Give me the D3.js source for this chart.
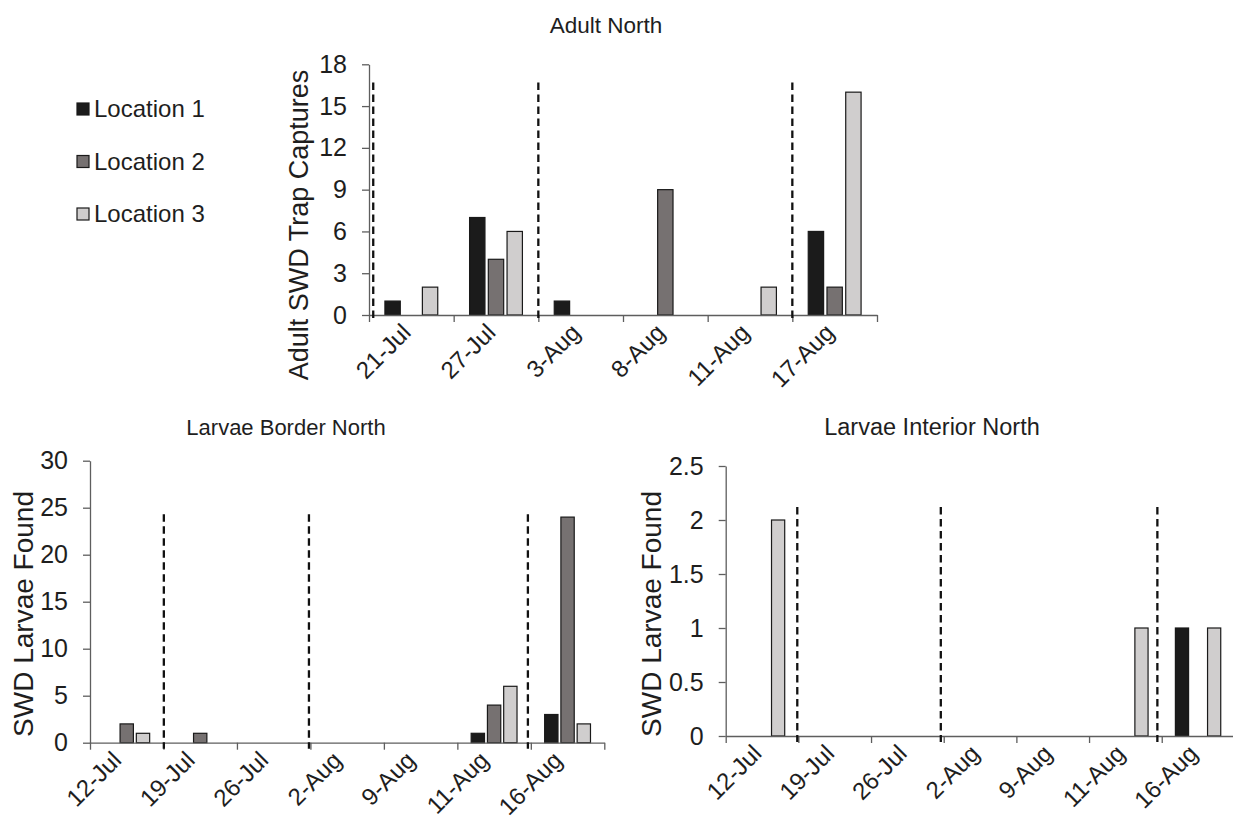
<!DOCTYPE html>
<html>
<head>
<meta charset="utf-8">
<script src="https://cdn.jsdelivr.net/npm/d3@7/dist/d3.min.js"></script>
<style>
  html, body { margin: 0; padding: 0; background: #ffffff; }
  svg { display: block; font-family: "Liberation Sans", Arial, Helvetica, sans-serif; }
</style>
</head>
<body>
<svg id="chart" width="1233" height="829"></svg>
<script>
// ---- Data ----
const locations = ["Location 1", "Location 2", "Location 3"];

const adultDates = ["21-Jul", "27-Jul", "3-Aug", "8-Aug", "11-Aug", "17-Aug"];
const adultLoc1 = [1, 7, 1, 0, 0, 6];
const adultLoc2 = [0, 4, 0, 9, 0, 2];
const adultLoc3 = [2, 6, 0, 0, 2, 16];
const adultTicks = [0, 3, 6, 9, 12, 15, 18];
// event markers, in category units along the date axis
const adultMarkers = [0.05, 2.0, 5.0];
const adultMarkerTop = 16.7;

const larvaeDates = ["12-Jul", "19-Jul", "26-Jul", "2-Aug", "9-Aug", "11-Aug", "16-Aug"];
const borderLoc1 = [0, 0, 0, 0, 0, 1, 3];
const borderLoc2 = [2, 1, 0, 0, 0, 4, 24];
const borderLoc3 = [1, 0, 0, 0, 0, 6, 2];
const borderTicks = [0, 5, 10, 15, 20, 25, 30];
const borderMarkers = [1.005, 2.98, 5.96];
const borderMarkerTop = 24.3;

const interiorLoc1 = [0, 0, 0, 0, 0, 0, 1];
const interiorLoc2 = [0, 0, 0, 0, 0, 0, 0];
const interiorLoc3 = [2, 0, 0, 0, 0, 1, 1];
const interiorTicks = [0, 0.5, 1, 1.5, 2, 2.5];
const interiorMarkers = [0.985, 2.96, 5.94];
const interiorMarkerTop = 2.12;

// ---- Styles ----
const fills = ["#1b1b1b", "#767171", "#d0cece"];
const barStroke = "#1a1a1a";
const axisColor = "#5e5e5e";
const textColor = "#1e1e1e";

const svg = d3.select("#chart");

function drawPanel(cfg) {
  const g = svg.append("g");
  const n = cfg.dates.length;

  const x = d3.scaleBand().domain(cfg.dates).range([cfg.x0, cfg.x1]).padding(0);
  const xUnits = d3.scaleLinear().domain([0, n]).range([cfg.x0, cfg.x1]);
  const y = d3.scaleLinear().domain([0, cfg.yMax]).range([cfg.y0, cfg.yTop]);
  const inner = d3.scaleBand().domain(d3.range(cfg.series.length))
    .range([0, x.bandwidth()]).paddingInner(0.18).paddingOuter(0.85);

  // bars (zero counts draw nothing)
  const rows = [];
  cfg.dates.forEach((d, i) => {
    cfg.series.forEach((s, k) => {
      if (s[i] > 0) rows.push({ date: d, k: k, v: s[i] });
    });
  });
  g.append("g").selectAll("rect").data(rows).join("rect")
    .attr("x", d => x(d.date) + inner(d.k))
    .attr("y", d => y(d.v))
    .attr("width", inner.bandwidth())
    .attr("height", d => y(0) - y(d.v))
    .attr("fill", d => fills[d.k])
    .attr("stroke", barStroke)
    .attr("stroke-width", 1.2);

  // y axis
  const yAxis = g.append("g")
    .attr("transform", `translate(${cfg.x0},0)`)
    .call(d3.axisLeft(y).tickValues(cfg.ticks).tickFormat(cfg.fmt || d3.format("d"))
      .tickSize(7).tickPadding(15).tickSizeOuter(0));
  yAxis.select(".domain").attr("stroke", axisColor).attr("stroke-width", 1.3);
  yAxis.selectAll(".tick line").attr("stroke", axisColor).attr("stroke-width", 1.3);
  yAxis.selectAll(".tick text")
    .attr("fill", textColor).attr("font-size", cfg.tickFont).attr("font-family", null);

  // x axis: boundary ticks
  const xTicks = g.append("g")
    .attr("transform", `translate(0,${cfg.y0})`)
    .call(d3.axisBottom(xUnits).tickValues(d3.range(n + 1)).tickFormat("")
      .tickSize(7).tickSizeOuter(0));
  xTicks.select(".domain").attr("stroke", axisColor).attr("stroke-width", 1.3);
  xTicks.selectAll(".tick line").attr("stroke", axisColor).attr("stroke-width", 1.3);

  // x axis: rotated category labels
  const xLab = g.append("g")
    .attr("transform", `translate(0,${cfg.y0})`)
    .call(d3.axisBottom(x).tickSize(0).tickPadding(0));
  xLab.select(".domain").remove();
  xLab.selectAll(".tick text")
    .attr("fill", textColor)
    .attr("font-size", cfg.xFont)
    .attr("font-family", null)
    .attr("text-anchor", "end")
    .attr("dy", null)
    .attr("y", 0)
    .attr("transform", `translate(${cfg.labDx},${cfg.labDy}) rotate(-45)`);

  // dashed event markers
  g.append("g").selectAll("line").data(cfg.markers).join("line")
    .attr("x1", d => xUnits(d)).attr("x2", d => xUnits(d))
    .attr("y1", y(cfg.markerTop)).attr("y2", y(0) + 6)
    .attr("stroke", "#111")
    .attr("stroke-width", 2.3)
    .attr("stroke-dasharray", "7.5,4.5");

  // titles
  g.append("text")
    .attr("x", cfg.titleX).attr("y", cfg.titleY)
    .attr("text-anchor", "middle")
    .attr("font-size", cfg.titleFont)
    .attr("fill", textColor)
    .text(cfg.title);

  g.append("text")
    .attr("transform", `translate(${cfg.yTitleX},${cfg.yTitleY}) rotate(-90)`)
    .attr("text-anchor", "middle")
    .attr("font-size", cfg.yTitleFont)
    .attr("fill", textColor)
    .text(cfg.yTitle);
}

drawPanel({
  dates: adultDates, series: [adultLoc1, adultLoc2, adultLoc3],
  x0: 369, x1: 877, y0: 315, yTop: 64.3, yMax: 18, ticks: adultTicks,
  markers: adultMarkers, markerTop: adultMarkerTop,
  title: "Adult North", titleX: 606, titleY: 33, titleFont: 22.5,
  yTitle: "Adult SWD Trap Captures", yTitleX: 308, yTitleY: 225, yTitleFont: 27,
  tickFont: 25, xFont: 24, labDx: 1, labDy: 19
});

drawPanel({
  dates: larvaeDates, series: [borderLoc1, borderLoc2, borderLoc3],
  x0: 90, x1: 604.3, y0: 742.7, yTop: 460.7, yMax: 30, ticks: borderTicks,
  markers: borderMarkers, markerTop: borderMarkerTop,
  title: "Larvae Border North", titleX: 286, titleY: 435, titleFont: 22,
  yTitle: "SWD Larvae Found", yTitleX: 33, yTitleY: 614, yTitleFont: 28,
  tickFont: 25, xFont: 24, labDx: -4, labDy: 19
});

drawPanel({
  dates: larvaeDates, series: [interiorLoc1, interiorLoc2, interiorLoc3],
  x0: 725.7, x1: 1234.4, y0: 736, yTop: 466, yMax: 2.5, ticks: interiorTicks,
  fmt: d => String(d),
  markers: interiorMarkers, markerTop: interiorMarkerTop,
  title: "Larvae Interior North", titleX: 932, titleY: 435, titleFont: 23.5,
  yTitle: "SWD Larvae Found", yTitleX: 661, yTitleY: 614, yTitleFont: 28,
  tickFont: 25, xFont: 24, labDx: 1, labDy: 19
});

// legend
const legend = svg.append("g").attr("transform", "translate(77,109)");
const legendRows = legend.selectAll("g").data(locations).join("g")
  .attr("transform", (d, i) => `translate(0,${i * 52.5})`);
legendRows.append("rect")
  .attr("x", 0).attr("y", -6).attr("width", 12).attr("height", 12)
  .attr("fill", (d, i) => fills[i])
  .attr("stroke", barStroke).attr("stroke-width", 1.2);
legendRows.append("text")
  .attr("x", 17).attr("y", 0).attr("dy", "0.35em")
  .attr("font-size", 24).attr("fill", textColor)
  .text(d => d);
</script>
</body>
</html>
